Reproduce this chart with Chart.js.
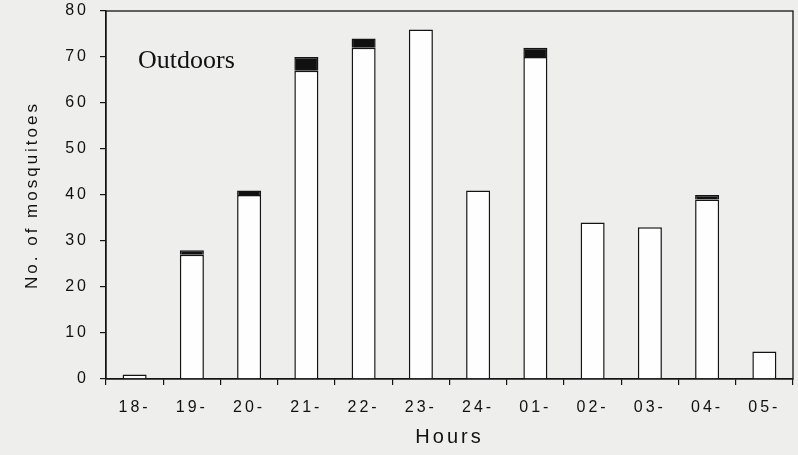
<!DOCTYPE html>
<html>
<head>
<meta charset="utf-8">
<script src="https://cdn.jsdelivr.net/npm/chart.js@4.4.1/dist/chart.umd.min.js"></script>
<style>
  html, body { margin: 0; padding: 0; background: #eeeeec; }
  #wrap { width: 798px; height: 455px; }
</style>
</head>
<body>
<div id="wrap"><canvas id="c" width="798" height="455"></canvas></div>
<script>
// Hourly catches outdoors, split into two stacked groups
const hours = ['18-', '19-', '20-', '21-', '22-', '23-', '24-', '01-', '02-', '03-', '04-', '05-'];
const lowerCounts = [1, 27, 40, 67, 72, 76, 41, 70, 34, 33, 39, 6];
const upperCounts = [null, 1, 1, 3, 2, null, null, 2, null, null, 1, null];
const yTicks = [0, 10, 20, 30, 40, 50, 60, 70, 80];
const panelLabel = 'Outdoors';

const ink = '#141414';
const sans = '"Liberation Sans", Arial, sans-serif';

// Frame around the plot area plus the panel label
const framePlugin = {
  id: 'frame',
  beforeDraw(chart) {
    chart.ctx.letterSpacing = '3px';
  },
  afterDraw(chart) {
    const { ctx, chartArea: a } = chart;
    ctx.save();
    ctx.strokeStyle = ink;
    ctx.lineWidth = 1.3;
    ctx.strokeRect(a.left, a.top, a.right - a.left, a.bottom - a.top);
    ctx.letterSpacing = '0px';
    ctx.fillStyle = '#111';
    ctx.font = '26px "Liberation Serif", "Times New Roman", serif';
    ctx.textBaseline = 'alphabetic';
    ctx.fillText(panelLabel, a.left + 32, a.top + 57);
    ctx.restore();
  }
};

new Chart(document.getElementById('c'), {
  type: 'bar',
  data: {
    labels: hours,
    datasets: [
      {
        data: lowerCounts,
        backgroundColor: '#fefefe',
        borderColor: ink,
        borderWidth: 1.5,
        borderSkipped: 'start'
      },
      {
        data: upperCounts,
        backgroundColor: '#111',
        borderColor: ink,
        borderWidth: 1.5,
        borderSkipped: 'start'
      }
    ]
  },
  options: {
    responsive: false,
    animation: false,
    events: [],
    layout: { padding: { top: 11, right: 5, left: 0, bottom: 0 } },
    datasets: { bar: { categoryPercentage: 1, barPercentage: 0.42 } },
    plugins: { legend: { display: false }, tooltip: { enabled: false } },
    scales: {
      x: {
        stacked: true,
        offset: true,
        grid: { offset: true, drawOnChartArea: false, drawTicks: true, tickLength: 6, color: ink, lineWidth: 1.2 },
        border: { display: true, color: ink, width: 1.3 },
        ticks: { color: '#111', font: { family: sans, size: 16 }, padding: 13, maxRotation: 0, autoSkip: false },
        title: { display: true, text: 'Hours', color: '#111', font: { family: sans, size: 20 }, padding: { top: 4, bottom: 6 } },
        afterFit(s) { s.height = 76; s.paddingLeft = 0; s.paddingRight = 0; }
      },
      y: {
        stacked: true,
        min: 0,
        max: 80,
        afterBuildTicks(s) { s.ticks = yTicks.map(v => ({ value: v })); },
        grid: { drawOnChartArea: false, drawTicks: true, tickLength: 6, color: ink, lineWidth: 1.2 },
        border: { display: true, color: ink, width: 1.3 },
        ticks: { color: '#111', font: { family: sans, size: 16 }, padding: 11 },
        title: { display: true, text: 'No. of mosquitoes', color: '#111', font: { family: sans, size: 17 }, padding: { top: 22, bottom: 0 } },
        afterFit(s) { s.width = 106; s.paddingTop = 0; s.paddingBottom = 0; }
      }
    }
  },
  plugins: [framePlugin]
});
</script>
</body>
</html>
